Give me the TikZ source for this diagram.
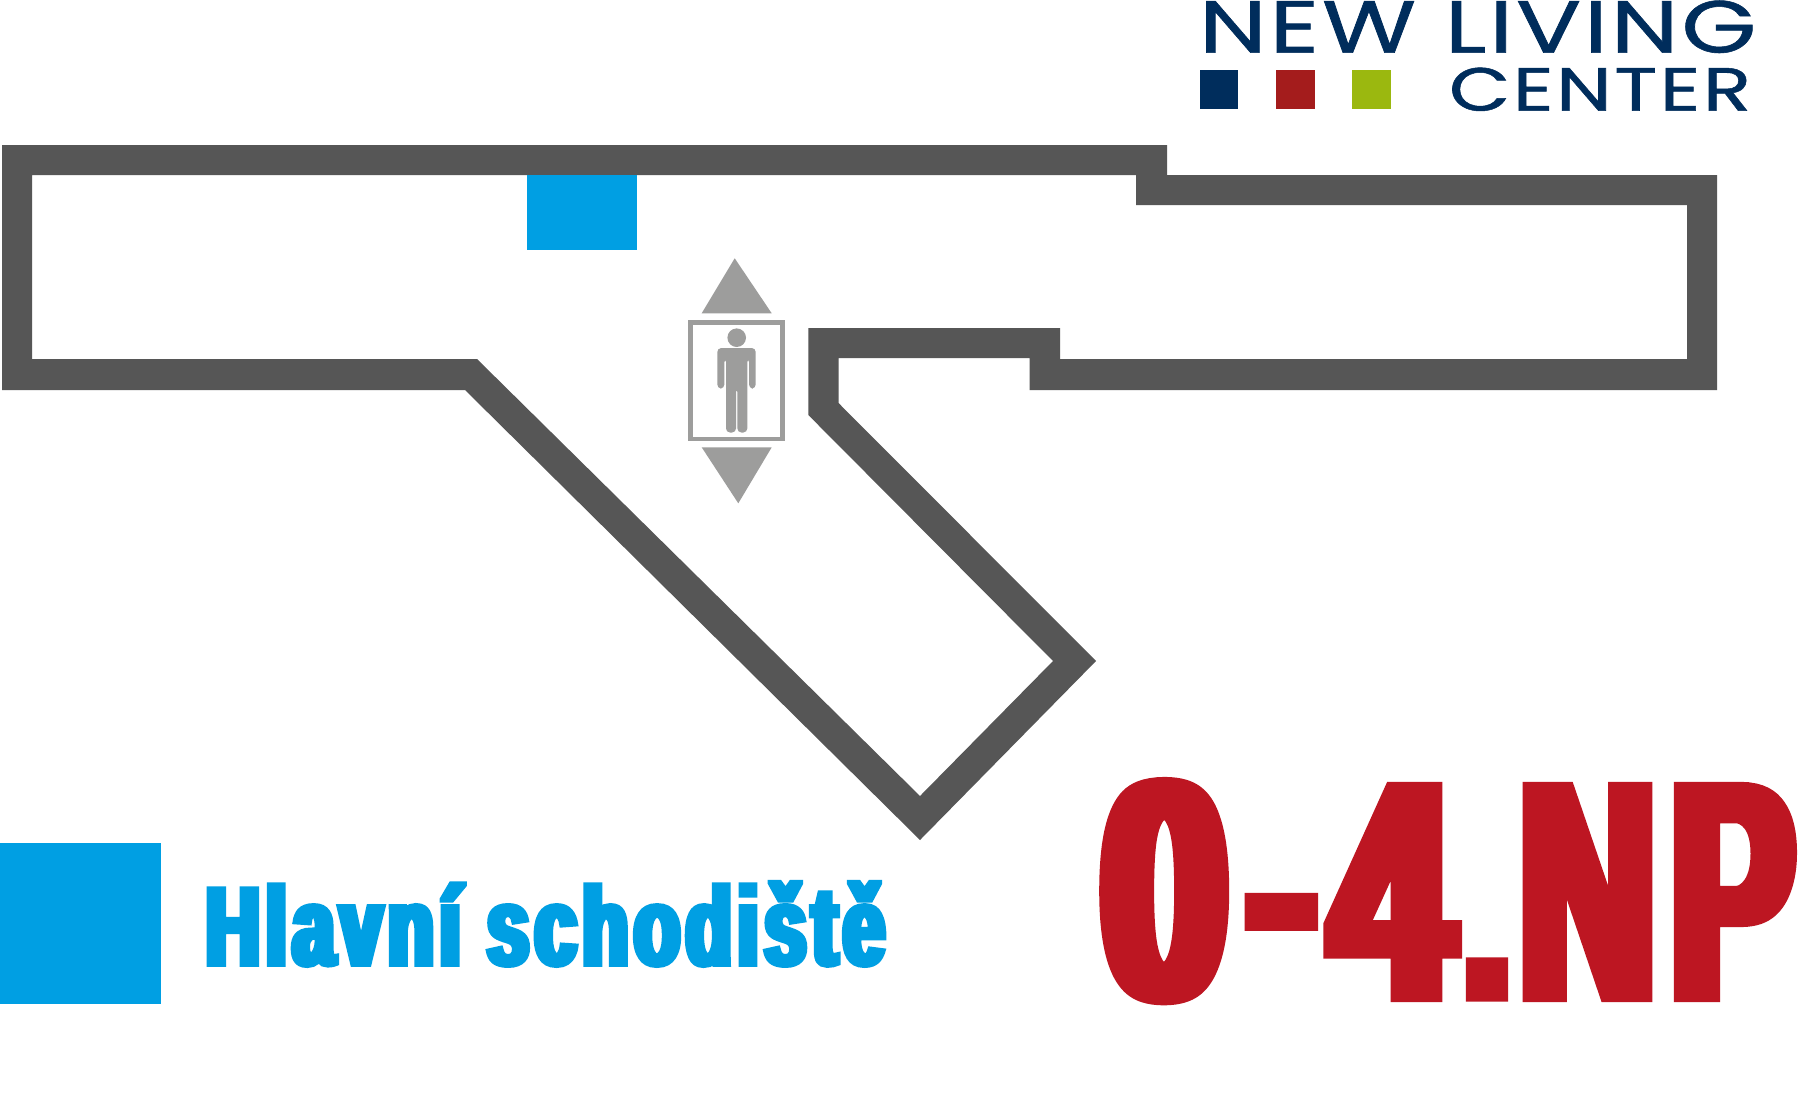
\documentclass[tikz,border=0pt]{standalone}
\usepackage{fontspec}
\usepackage{graphicx}
\newfontfamily\logofont[LetterSpace=3,FakeBold=0.8]{Poppins}
\newfontfamily\heavyfont[FakeStretch=0.3,FakeBold=3.5,LetterSpace=2.5]{Liberation Sans Bold}
\newfontfamily\bigfont[FakeStretch=0.2,FakeBold=2.2]{Liberation Sans Bold}
\definecolor{wallc}{HTML}{565656}
\definecolor{stairc}{HTML}{009FE3}
\definecolor{liftc}{HTML}{9D9D9C}
\definecolor{navyc}{HTML}{002D5C}
\definecolor{logored}{HTML}{A41C1C}
\definecolor{logogreen}{HTML}{9BB80F}
\definecolor{bigred}{HTML}{BD1622}
\tikzset{
  textfit/.style={inner sep=0pt,outer sep=0pt,anchor=south west},
  liftfill/.style={fill=liftc,draw=none}
}
\begin{document}
\begin{tikzpicture}[x=1pt,y=-1pt]
\useasboundingbox (0,0) rectangle (1803,1095);
\fill[white] (0,0) rectangle (1803,1095);
% walls
\fill[wallc,even odd rule]
 (2,145) -- (1167,145) -- (1167,175) -- (1717,175) -- (1717,390) -- (1029.5,390) -- (1029.5,358) -- (838.5,358) -- (838.5,403) -- (1096,661) -- (920,840) -- (465,390) -- (2,390) -- cycle
 (32,175) -- (1136,175) -- (1136,205) -- (1687,205) -- (1687,359) -- (1060,359) -- (1060,328) -- (808.3,328) -- (808.3,415) -- (1053,661) -- (920,796) -- (477,359) -- (32,359) -- cycle;
% stair marks
\fill[stairc] (527,175) rectangle (637,250);
\fill[stairc] (0,843) rectangle (161,1004);
% lift
\fill[liftfill] (734.7,258.3) -- (771.7,313.3) -- (701.7,313.3) -- cycle;
\fill[liftfill] (701.7,447.3) -- (771.7,447.3) -- (738.3,503.3) -- cycle;
\draw[liftc,line width=4.6pt] (690.3,322.3) rectangle (782.7,439);
\fill[liftfill] (736.7,337.7) circle (9.3);
\fill[liftfill,rounded corners=4pt] (717.3,388.5) -- (717.3,348) -- (755.7,348) -- (755.7,388.5) -- (749,388.5) -- (749,358) -- (747.3,358) -- (747.3,432.5) -- (737.4,432.5) -- (737.4,388) -- (736,388) -- (736,432.5) -- (726,432.5) -- (726,358) -- (724.4,358) -- (724.4,388.5) -- cycle;
% logo
\node[textfit,text=navyc] (logoa) at (1199,53) {\resizebox{557pt}{52pt}{\logofont NEW LIVING}};
\node[textfit,text=navyc] (logob) at (1449,111) {\resizebox{302pt}{43pt}{\logofont CENTER}};
\fill[navyc] (1200,70.3) rectangle (1238.4,108.7);
\fill[logored] (1276,70.3) rectangle (1314.7,108.7);
\fill[logogreen] (1352,70.3) rectangle (1390.6,108.7);
% labels
\node[textfit,text=stairc] (legend) at (206,966) {\resizebox{678pt}{83pt}{\heavyfont Hlavní schodiště}};
\node[inner sep=0pt,outer sep=0pt,anchor=base west,text=bigred] (floor) at (1102.7,998.8) {\bigfont
 \resizebox{123pt}{218pt}{0}\kern21.9pt
 \raisebox{17pt}{\resizebox{67pt}{85.9pt}{-}}\kern16.9pt
 \resizebox{119pt}{213.4pt}{4}\kern12.3pt
 \resizebox{46.7pt}{38.6pt}{.}\kern10.1pt
 \resizebox{133.6pt}{213.4pt}{N}\kern16.9pt
 \resizebox{121pt}{213.4pt}{P}};
\end{tikzpicture}
\end{document}
